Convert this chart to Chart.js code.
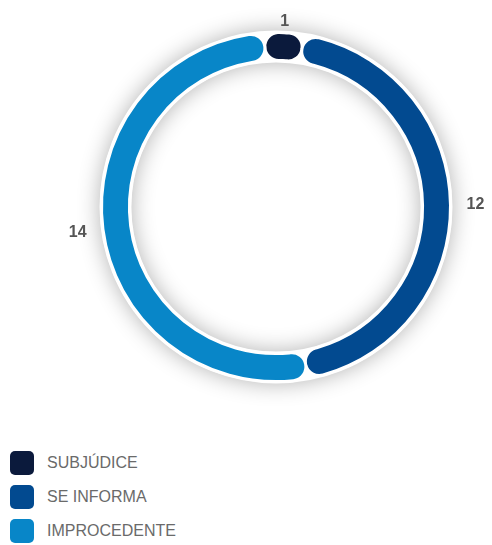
<!DOCTYPE html>
<html>
<head>
<meta charset="utf-8">
<script src="https://cdn.jsdelivr.net/npm/chart.js@4.4.1/dist/chart.umd.min.js"></script>
<style>
  html, body { margin: 0; padding: 0; background: #fff; }
  body { width: 492px; height: 545px; position: relative; overflow: hidden; font-family: "Liberation Sans", Arial, sans-serif; }
  #chart-box { position: absolute; left: 0; top: 0; width: 492px; height: 420px; }
  #legend { position: absolute; left: 10px; top: 451px; list-style: none; margin: 0; padding: 0; }
  #legend li { display: flex; align-items: center; height: 24px; margin-bottom: 10px; color: #6a6a6a; font-size: 16px; }
  #legend .swatch { width: 24px; height: 24px; border-radius: 5px; margin-right: 13px; }
</style>
</head>
<body>
<div id="chart-box"><canvas id="ringChart"></canvas></div>
<ul id="legend"></ul>
<script>
// --- Data ---
const categories = ['SUBJÚDICE', 'SE INFORMA', 'IMPROCEDENTE'];
const counts = [1, 12, 14];
const colors = ['#0b1a3c', '#024a90', '#0886c8'];

// --- Legend ---
const legend = document.getElementById('legend');
categories.forEach((cat, i) => {
  const li = document.createElement('li');
  li.innerHTML = `<span class="swatch" style="background:${colors[i]}"></span>${cat}`;
  legend.appendChild(li);
});

// Soft grey halo under the ring
const ringShadow = {
  id: 'ringShadow',
  beforeDatasetsDraw(chart) {
    const arc = chart.getDatasetMeta(0).data[0];
    if (!arc) return;
    const ctx = chart.ctx;
    ctx.save();
    ctx.beginPath();
    ctx.arc(arc.x, arc.y, (arc.innerRadius + arc.outerRadius) / 2, 0, Math.PI * 2);
    ctx.lineWidth = arc.outerRadius - arc.innerRadius + 4;
    ctx.strokeStyle = '#fff';
    ctx.shadowColor = 'rgba(0,0,0,0.3)';
    ctx.shadowBlur = 22;
    ctx.stroke();
    ctx.restore();
  }
};

// Value labels outside each segment
const valueLabels = {
  id: 'valueLabels',
  afterDatasetsDraw(chart) {
    const ctx = chart.ctx;
    const values = chart.data.datasets[0].data;
    ctx.save();
    ctx.font = 'bold 16px "Liberation Sans", Arial, sans-serif';
    ctx.fillStyle = '#555';
    ctx.textAlign = 'center';
    ctx.textBaseline = 'middle';
    chart.getDatasetMeta(0).data.forEach((arc, i) => {
      const mid = (arc.startAngle + arc.endAngle) / 2;
      const text = String(values[i]);
      const w = ctx.measureText(text).width;
      const c = Math.cos(mid), s = Math.sin(mid);
      const r = arc.outerRadius + 4 + Math.abs(c) * (w / 2 + 12) + Math.abs(s) * 6;
      ctx.fillText(text, arc.x + c * r, arc.y + s * r);
    });
    ctx.restore();
  }
};

new Chart(document.getElementById('ringChart'), {
  type: 'doughnut',
  data: {
    labels: categories,
    datasets: [{
      data: counts,
      backgroundColor: colors,
      borderColor: '#fff',
      borderWidth: 3,
      borderRadius: 14,
      hoverOffset: 0
    }]
  },
  options: {
    responsive: true,
    maintainAspectRatio: false,
    animation: false,
    cutout: '84%',
    rotation: -4,
    layout: { padding: { left: 100, right: 40, top: 31, bottom: 37 } },
    plugins: {
      legend: { display: false },
      tooltip: { enabled: false }
    }
  },
  plugins: [ringShadow, valueLabels]
});
</script>
</body>
</html>
